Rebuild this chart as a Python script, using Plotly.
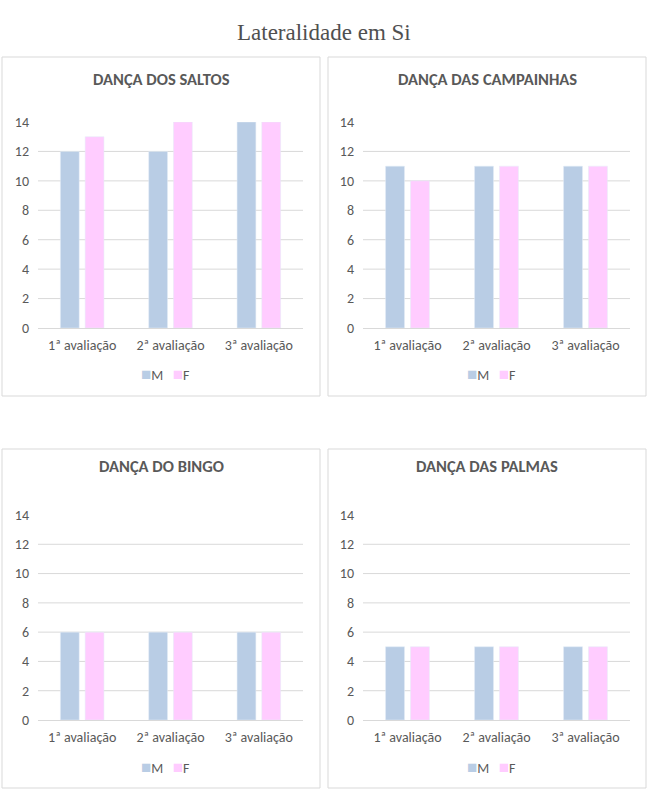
import plotly.graph_objects as go

W, H = 648, 795

categories = ["1ª avaliação", "2ª avaliação", "3ª avaliação"]
panel_titles = ["DANÇA DOS SALTOS", "DANÇA DAS CAMPAINHAS", "DANÇA DO BINGO", "DANÇA DAS PALMAS"]
m_saltos = [12, 12, 14]
f_saltos = [13, 14, 14]
m_campainhas = [11, 11, 11]
f_campainhas = [10, 11, 11]
m_bingo = [6, 6, 6]
f_bingo = [6, 6, 6]
m_palmas = [5, 5, 5]
f_palmas = [5, 5, 5]
y_ticks = [0, 2, 4, 6, 8, 10, 12, 14]
series_names = ["M", "F"]

series = [(m_saltos, f_saltos), (m_campainhas, f_campainhas),
          (m_bingo, f_bingo), (m_palmas, f_palmas)]

M_COLOR = "#B9CDE5"
F_COLOR = "#FFCCFF"
GRID = "#D9D9D9"
TXT = "#595959"
FONT = "Carlito, Calibri, Lato, sans-serif"

# pixel geometry: (box x0,x1,y0,y1), (plot x0,x1,y_top,y_bottom)
boxes = [(2, 320, 57, 396), (328, 646, 57, 396), (2, 320, 449, 788), (328, 646, 449, 788)]
plots = [(38, 303, 122, 328), (363, 630, 122, 328), (38, 303, 515, 720), (363, 630, 515, 720)]
title_y = [79, 79, 466, 466]
legend_y = [374, 374, 767, 767]

def fx(px):
    return px / W

def fy(py):
    return 1 - py / H

fig = go.Figure()
layout = dict(
    width=W, height=H, margin=dict(l=0, r=0, t=0, b=0, autoexpand=False),
    paper_bgcolor="white", plot_bgcolor="white",
    barmode="group", bargap=0.44, bargroupgap=0.24,
    showlegend=False, shapes=[], annotations=[],
)

for i, ((mv, fv), title) in enumerate(zip(series, panel_titles)):
    n = "" if i == 0 else str(i + 1)
    xa, ya = "x" + n, "y" + n
    fig.add_trace(go.Bar(x=categories, y=mv, name=series_names[0], marker_color=M_COLOR,
                         xaxis=xa, yaxis=ya, hoverinfo="y"))
    fig.add_trace(go.Bar(x=categories, y=fv, name=series_names[1], marker_color=F_COLOR,
                         xaxis=xa, yaxis=ya, hoverinfo="y"))
    px0, px1, pyt, pyb = plots[i]
    layout["xaxis" + n] = dict(
        domain=[fx(px0), fx(px1)], anchor=ya, type="category",
        showline=True, linecolor=GRID, linewidth=1, ticks="", ticklabelstandoff=4,
        tickfont=dict(family=FONT, size=14, color=TXT), fixedrange=True,
    )
    layout["yaxis" + n] = dict(
        domain=[fy(pyb), fy(pyt)], anchor=xa, range=[0, 14],
        tickvals=y_ticks, showgrid=False,
        zeroline=False, showline=False, ticks="", ticklabelstandoff=8,
        tickfont=dict(family=FONT, size=14, color=TXT), fixedrange=True,
    )
    # horizontal gridlines (none at the top value, as in the original)
    for v in y_ticks[1:-1]:
        layout["shapes"].append(dict(type="line", xref=xa + " domain", yref=ya,
                                     x0=0, x1=1, y0=v, y1=v, layer="below",
                                     line=dict(color=GRID, width=1)))
    bx0, bx1, by0, by1 = boxes[i]
    layout["shapes"].append(dict(type="rect", xref="paper", yref="paper",
                                 x0=fx(bx0), x1=fx(bx1), y0=fy(by1), y1=fy(by0),
                                 line=dict(color=GRID, width=1), fillcolor="rgba(0,0,0,0)"))
    layout["annotations"].append(dict(
        text=title, xref="paper", yref="paper", x=fx((bx0 + bx1) / 2), y=fy(title_y[i]),
        xanchor="center", yanchor="middle", showarrow=False,
        font=dict(family=FONT, size=16.5, color=TXT, weight="bold")))
    sq = 'font-size:17px'
    legend_text = (f'<span style="color:{M_COLOR};{sq}">■</span>{series_names[0]}&nbsp;&nbsp;&nbsp;'
                   f'<span style="color:{F_COLOR};{sq}">■</span>{series_names[1]}')
    layout["annotations"].append(dict(
        text=legend_text, xref="paper", yref="paper", x=fx((px0 + px1) / 2 - 5), y=fy(legend_y[i]),
        xanchor="center", yanchor="middle", showarrow=False,
        font=dict(family=FONT, size=14, color=TXT)))

layout["annotations"].append(dict(
    text="Lateralidade em Si", xref="paper", yref="paper", x=0.5, y=fy(33),
    xanchor="center", yanchor="middle", showarrow=False,
    font=dict(family="Liberation Serif, Times New Roman, serif", size=23, color="#505050")))

fig.update_layout(**layout)
fig.write_html("out.html")
